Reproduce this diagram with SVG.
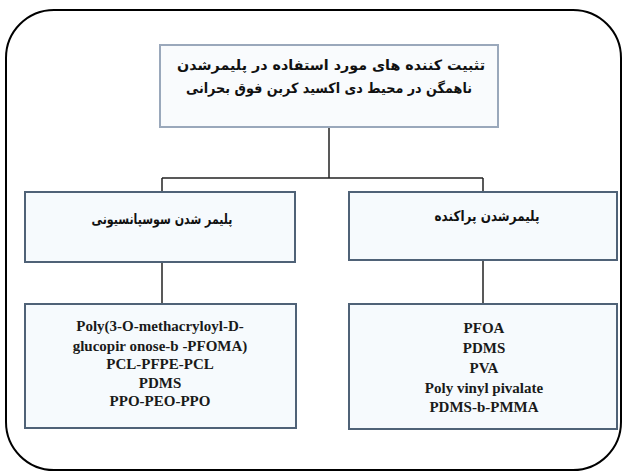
<svg xmlns="http://www.w3.org/2000/svg" width="625" height="473" viewBox="0 0 625 473">
  <style>
    .frame { fill: #ffffff; stroke: #000000; stroke-width: 2; }
    .head { fill: #f9fbfd; stroke: #9aa8bb; stroke-width: 2; }
    .box { fill: #f6fafd; stroke: #4f6277; stroke-width: 2; }
    .fa { font-family: "DejaVu Sans", sans-serif; font-weight: bold; font-size: 14px; fill: #111111; text-anchor: middle; }
    .en { font-family: "Liberation Serif", "Times New Roman", serif; font-weight: bold; font-size: 15px; fill: #1a1a1a; text-anchor: middle; }
    .link { fill: none; stroke: #222222; stroke-width: 1.5; }
  </style>

  <rect class="frame" x="6" y="10" width="615" height="460" rx="48" ry="48"/>

  <g id="connectors">
    <path class="link" d="M329 128 V178"/>
    <path class="link" d="M162 178 H483"/>
    <path class="link" d="M162 178 V192"/>
    <path class="link" d="M483 178 V192"/>
    <path class="link" d="M162 262 V304"/>
    <path class="link" d="M483 260 V304"/>
  </g>

  <g id="stabilizers">
    <rect class="head" x="160" y="45" width="338" height="82"/>
    <text class="fa" x="331" y="70" direction="rtl" textLength="308" lengthAdjust="spacingAndGlyphs">تثبیت کننده های مورد استفاده در  پلیمرشدن</text>
    <text class="fa" x="329" y="93" direction="rtl" textLength="286" lengthAdjust="spacingAndGlyphs">ناهمگن در محیط دی اکسید کربن فوق بحرانی</text>
  </g>

  <g id="suspension">
    <rect class="box" x="25" y="192" width="270" height="70"/>
    <text class="fa" x="162" y="224" direction="rtl" textLength="141" lengthAdjust="spacingAndGlyphs">پلیمر شدن سوسپانسیونی</text>
  </g>

  <g id="dispersion">
    <rect class="box" x="349" y="192" width="268" height="68"/>
    <text class="fa" x="487" y="221" direction="rtl" textLength="105" lengthAdjust="spacingAndGlyphs">پلیمرشدن پراکنده</text>
  </g>

  <g id="suspension-stabilizers">
    <rect class="box" x="25" y="304" width="271" height="124"/>
    <text class="en" x="160" y="331">Poly(3-O-methacryloyl-D-</text>
    <text class="en" x="160" y="351">glucopir onose-b -PFOMA)</text>
    <text class="en" x="160" y="369">PCL-PFPE-PCL</text>
    <text class="en" x="160" y="388">PDMS</text>
    <text class="en" x="160" y="406">PPO-PEO-PPO</text>
  </g>

  <g id="dispersion-stabilizers">
    <rect class="box" x="349" y="304" width="268" height="125"/>
    <text class="en" x="484" y="333">PFOA</text>
    <text class="en" x="484" y="353">PDMS</text>
    <text class="en" x="484" y="373">PVA</text>
    <text class="en" x="484" y="393">Poly vinyl pivalate</text>
    <text class="en" x="484" y="412">PDMS-b-PMMA</text>
  </g>
</svg>
